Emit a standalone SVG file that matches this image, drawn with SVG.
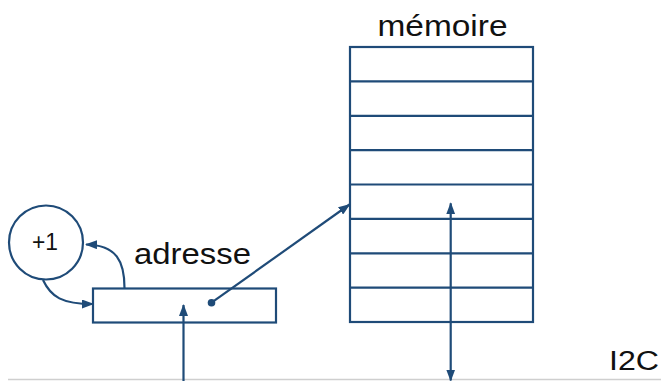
<svg xmlns="http://www.w3.org/2000/svg" width="661" height="381" viewBox="0 0 661 381">
  <style>
    .ln { fill: none; stroke: #1f4b78; stroke-width: 2.2; }
    .box { fill: #ffffff; stroke: #1f4b78; stroke-width: 2.2; }
    .lbl { font-family: "Liberation Sans", Arial, sans-serif; fill: #111111; }
  </style>
  <defs>
    <marker id="head" viewBox="0 0 12 9" markerWidth="12" markerHeight="9" refX="11" refY="4.5" orient="auto-start-reverse" markerUnits="userSpaceOnUse">
      <path d="M0,0 L12,4.5 L0,9 z" fill="#1f4b78"/>
    </marker>
  </defs>
  <rect width="661" height="381" fill="#ffffff"/>

  <!-- bus line along the bottom -->
  <line x1="8" y1="379.5" x2="661" y2="379.5" stroke="#cfcfcf" stroke-width="1.5"/>

  <!-- memory block with eight cells -->
  <g id="memoire">
    <rect class="box" x="350" y="47" width="183" height="275"/>
    <path class="ln" d="M350,81.4H533 M350,115.8H533 M350,150.1H533 M350,184.5H533 M350,218.9H533 M350,253.3H533 M350,287.6H533"/>
    <text class="lbl" x="377.5" y="35.7" font-size="30" textLength="130" lengthAdjust="spacingAndGlyphs">mémoire</text>
  </g>

  <!-- address register -->
  <g id="adresse">
    <rect class="box" x="93" y="288.5" width="183" height="34"/>
    <text class="lbl" x="134" y="264" font-size="30" textLength="117" lengthAdjust="spacingAndGlyphs">adresse</text>
  </g>

  <!-- incrementer -->
  <g id="increment">
    <circle class="box" cx="46" cy="242.5" r="37"/>
    <text class="lbl" x="32" y="250" font-size="24" textLength="26" lengthAdjust="spacingAndGlyphs">+1</text>
  </g>

  <!-- bus label -->
  <g id="i2c">
    <text class="lbl" x="609" y="370" font-size="27" textLength="50" lengthAdjust="spacingAndGlyphs">I2C</text>
  </g>

  <g id="connectors">
    <!-- register to incrementer -->
    <path class="ln" d="M124.5,288 C124.5,262 117,245 86,244.5" marker-end="url(#head)"/>
    <!-- incrementer back to register -->
    <path class="ln" d="M43,280 C51,297 62,304 93,304" marker-end="url(#head)"/>
    <!-- register selects a memory cell -->
    <circle cx="211.5" cy="302.7" r="3.8" fill="#1f4b78"/>
    <path class="ln" d="M211.5,302.7 L349.5,204.5" marker-end="url(#head)"/>
    <!-- address loaded from the bus -->
    <path class="ln" d="M183.5,381 L183.5,305" marker-end="url(#head)"/>
    <!-- data between memory and bus -->
    <path class="ln" d="M450.7,203.3 L450.7,380.5" marker-start="url(#head)" marker-end="url(#head)"/>
  </g>
</svg>
